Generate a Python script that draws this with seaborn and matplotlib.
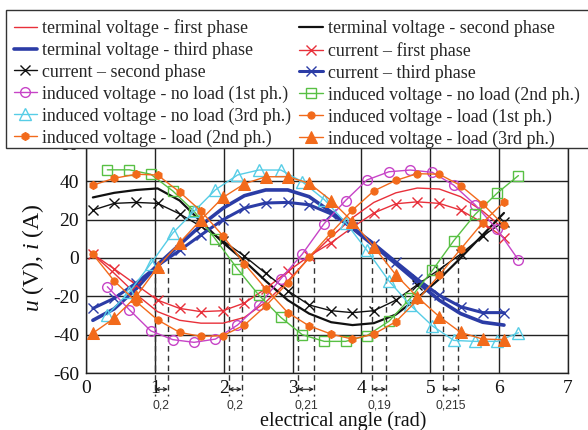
import numpy as np
import pandas as pd
import matplotlib
matplotlib.use("Agg")
import matplotlib.pyplot as plt
from matplotlib.patches import Rectangle
import seaborn as sns

# ---------------- data ----------------
x_a = [0.10, 0.41, 0.73, 1.04, 1.36, 1.67, 1.99, 2.30, 2.61, 2.93,
       3.24, 3.56, 3.87, 4.18, 4.50, 4.81, 5.13, 5.44, 5.76, 6.07]
x_b = [0.31, 0.63, 0.94, 1.26, 1.57, 1.88, 2.20, 2.51, 2.83, 3.14,
       3.46, 3.77, 4.08, 4.40, 4.71, 5.03, 5.34, 5.65, 5.97, 6.28]

tv1 = [2, -8, -19, -28, -32.5, -34, -34, -31, -23, -12, 0, 11, 21, 29, 34, 36.5, 36, 32, 24.5, 15]
tv2 = [31.6, 34, 35.5, 36.3, 30, 19, 8, -1.5, -12, -22, -29, -33.5, -35, -34, -29.5, -21, -11, 0, 12, 23.5]
tv3 = [-32.5, -26.5, -16, -3.5, 7, 17, 26, 32.5, 35.5, 35.5, 32, 24, 15.5, 6.5, -3, -12.5, -22, -29, -33.5, -35]
i1 = [2, -5.7, -14, -22, -26.3, -28, -27.5, -23.5, -16, -7, 1, 8, 16, 23.5, 28.3, 29.3, 28.5, 25, 18.4, 10.6]
i2 = [25, 28.5, 29, 28.5, 23, 16.5, 9, 1, -8, -17, -24.5, -27.5, -28.5, -27.5, -22, -14, -6, 2, 11.5, 19]
i3 = [-26.3, -21, -13, -4, 4, 12, 20, 26, 28.7, 29, 27.8, 23, 16, 7.5, -2, -11, -19.4, -25.4, -28.5, -28.5]
nl1 = [-15, -27, -38, -42.6, -44, -42.3, -35, -24.6, -10.8, 2, 18, 30, 40.7, 45, 45.9, 44.7, 38, 27.8, 15, -1]
nl2 = [46, 46, 43.7, 35, 24.4, 9.8, -5.7, -19.4, -31, -40, -43.5, -43.5, -40.5, -33, -21, -6.5, 9, 22.7, 33.8, 43]
nl3 = [-29.7, -17.7, -3, 13, 24.4, 35.6, 43.3, 45.9, 45.9, 39.8, 30.5, 18.5, 4, -12, -24.6, -35.4, -43, -43.5, -43.5, -39]
l1 = [2, -12, -22.8, -32.3, -38.8, -40.9, -40.5, -35, -25, -13, 0.3, 13.2, 25, 35, 40.5, 44, 43.7, 37.8, 28.3, 17]
l2 = [38, 41.6, 43.7, 43.3, 34.4, 24.5, 11.5, -3, -16, -28.5, -35.4, -39.7, -42.3, -39.7, -33.2, -22, -9, 4.6, 18.4, 29.2]
l3 = [-39.2, -31.4, -20, -4.8, 8, 20, 31.6, 38.7, 42.4, 42.4, 39, 30, 19, 5.8, -8.8, -20.3, -30.6, -38.8, -42.3, -42.6]

labels = [
    "terminal voltage - first phase",
    "terminal voltage - second phase",
    "terminal voltage - third phase",
    "current \u2013 first phase",
    "current \u2013 second phase",
    "current \u2013 third phase",
    "induced voltage - no load (1st ph.)",
    "induced voltage - no load (2nd ph.)",
    "induced voltage - no load (3rd ph.)",
    "induced voltage - load (1st ph.)",
    "induced voltage - load (2nd ph.)",
    "induced voltage - load (3rd ph.)",
]

gap_left = [1.00, 2.07, 3.08, 4.16, 5.18]
gap_right = [1.19, 2.26, 3.31, 4.36, 5.40]
gap_labels = ["0,2", "0,2", "0,21", "0,19", "0,215"]

# ---------------- style ----------------
sns.set_theme(style="white")
plt.rcParams["font.family"] = ["Liberation Serif", "DejaVu Serif"]
plt.rcParams["mathtext.fontset"] = "custom"
plt.rcParams["mathtext.it"] = "Liberation Serif:italic"
plt.rcParams["mathtext.rm"] = "Liberation Serif"
plt.rcParams["axes.unicode_minus"] = False

RED = "#e8303a"
BLK = "#111111"
BLU = "#2b3ca6"
MAG = "#c744c7"
GRN = "#58c044"
CYN = "#57cde6"
ORG = "#f26a1b"

W, H = 588, 430
fig = plt.figure(figsize=(W / 100, H / 100), dpi=100)
ax = fig.add_axes([86 / W, 1 - 373 / H, (568 - 86) / W, (373 - 143) / H])

series = [
    (x_a, tv1, dict(color=RED, lw=1.0)),
    (x_a, tv2, dict(color=BLK, lw=1.6)),
    (x_a, tv3, dict(color=BLU, lw=2.6)),
    (x_a, i1, dict(color=RED, lw=1.0, marker="x", ms=7, mec=RED, mew=1.0)),
    (x_a, i2, dict(color=BLK, lw=1.0, marker="x", ms=7, mec=BLK, mew=1.0)),
    (x_a, i3, dict(color=BLU, lw=2.2, marker="x", ms=7, mec=BLU, mew=1.0)),
    (x_b, nl1, dict(color=MAG, lw=1.0, marker="o", ms=7, mfc="none", mec=MAG, mew=1.0)),
    (x_b, nl2, dict(color=GRN, lw=1.0, marker="s", ms=7, mfc="none", mec=GRN, mew=1.0)),
    (x_b, nl3, dict(color=CYN, lw=1.0, marker="^", ms=8.5, mfc="none", mec=CYN, mew=1.0)),
    (x_a, l1, dict(color=ORG, lw=1.0, marker="o", ms=5.2, mfc=ORG, mec=ORG)),
    (x_a, l2, dict(color=ORG, lw=1.0, marker="h", ms=5.8, mfc=ORG, mec=ORG)),
    (x_a, l3, dict(color=ORG, lw=1.0, marker="^", ms=8.5, mfc=ORG, mec=ORG)),
]

handles = []
for (xs, ys, kw), lab in zip(series, labels):
    df = pd.DataFrame({"x": xs, "y": ys})
    sns.lineplot(data=df, x="x", y="y", ax=ax, estimator=None, sort=False,
                 label=lab, legend=False, zorder=3, **kw)
    handles.append(ax.lines[-1])

ax.set_xlim(0, 7)
ax.set_ylim(-60, 60)
ax.set_xticks(range(0, 8))
ax.set_yticks(range(-60, 61, 20))
ax.grid(True, color="#222222", lw=1.0)
ax.set_axisbelow(True)
for s in ax.spines.values():
    s.set_color("#222222")
    s.set_linewidth(1.0)
ax.tick_params(length=0, labelsize=14, pad=5, colors="#111111")
ax.set_xlabel("electrical angle (rad)", fontsize=14.5, color="#111111")
ax.xaxis.set_label_coords(0.533, -0.168)
ax.set_ylabel("$u$ (V), $i$ (A)", fontsize=17, labelpad=5, color="#111111")

# zero-crossing gap markers
for xl, xr, gl in zip(gap_left, gap_right, gap_labels):
    for xv in (xl, xr):
        ax.plot([xv, xv], [0, -72], ls=(0, (4, 3)), color="#333333", lw=1.0,
                clip_on=False, zorder=2)
    ax.annotate("", xy=(xl, -68.5), xytext=(xr, -68.5),
                arrowprops=dict(arrowstyle="<->", color="#222222", lw=0.8,
                                shrinkA=0, shrinkB=0, mutation_scale=6),
                annotation_clip=False)
    ax.text((xl + xr) / 2, -77, gl, ha="center", va="center", fontsize=8.8,
            family=["Liberation Sans", "DejaVu Sans"], color="#333333")

# legend box (white, framed) covering the top of the plot
box = Rectangle((6 / W, 1 - 148 / H), 1.0, (148 - 10) / H, transform=fig.transFigure,
                facecolor="white", edgecolor="#333333", lw=1.0, zorder=4)
fig.patches.append(box)

# legend: original order row-wise in 2 columns
order = [0, 2, 4, 6, 8, 10, 1, 3, 5, 7, 9, 11]
leg = fig.legend([handles[i] for i in order], [labels[i] for i in order],
                 ncol=2, loc="upper left", bbox_to_anchor=(6 / W, 1 - 12 / H),
                 fontsize=12.9, frameon=False, handlelength=1.3, handletextpad=0.3,
                 columnspacing=0.45, labelspacing=0.26, borderpad=0.42,
                 borderaxespad=0)
leg.set_zorder(5)

fig.savefig("out.png", dpi=100)
